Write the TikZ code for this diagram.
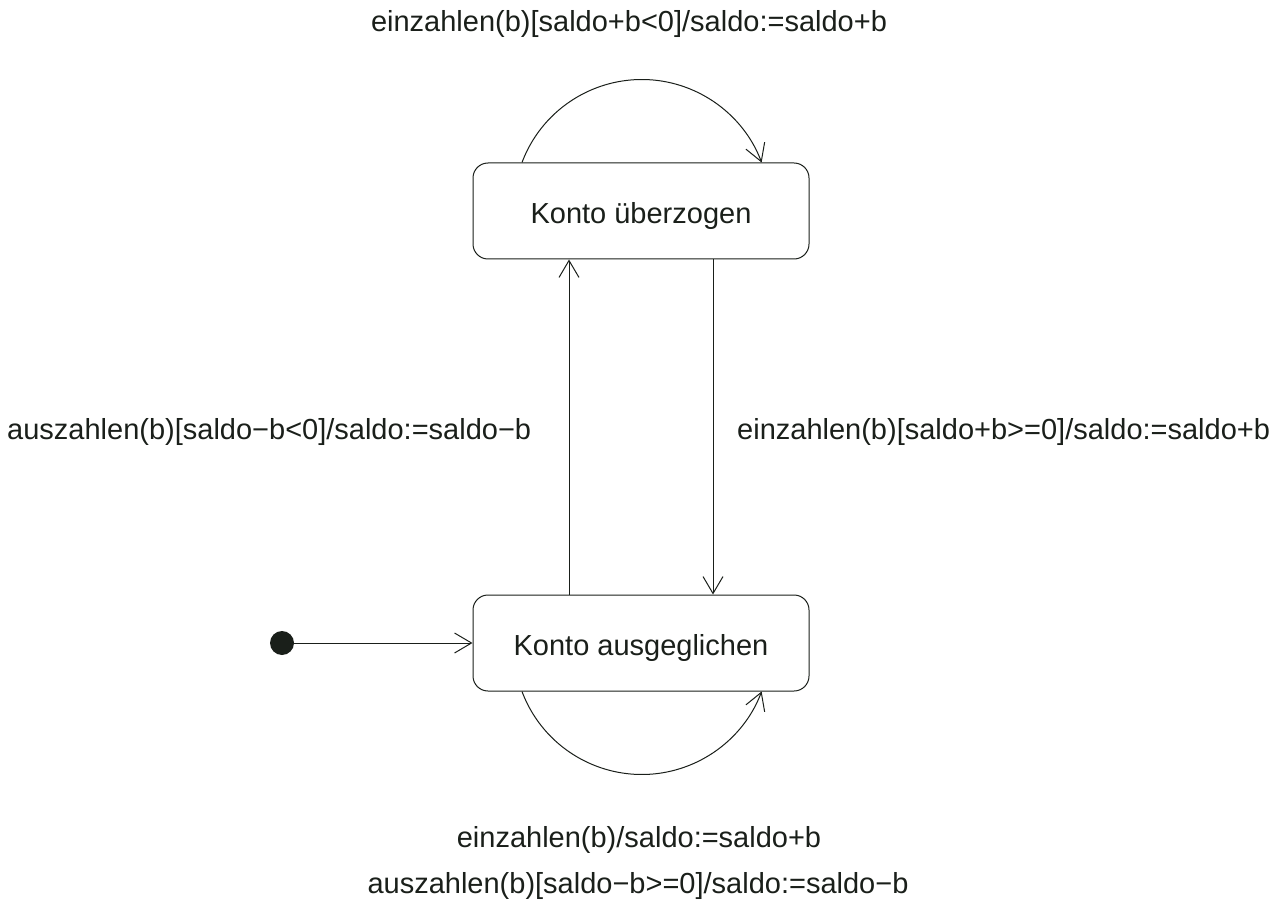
\documentclass[tikz,border=0pt]{standalone}
\usepackage{fontspec}
\setmainfont{Liberation Sans}
\usetikzlibrary{arrows.meta}
\definecolor{ink}{HTML}{1A1F1A}
\tikzset{
  state/.style={draw=ink, line width=1pt, rounded corners=15pt,
    minimum width=336pt, minimum height=96pt, inner sep=0pt, text=ink,
    text height=31pt, text depth=6pt},
  trans/.style={draw=ink, line width=1pt,
    -{Straight Barb[length=17pt,width=20pt,line width=1pt]}},
  lbl/.style={text=ink, inner sep=0pt},
}
\begin{document}
\begin{tikzpicture}[x=1pt, y=-1pt, font=\fontsize{29}{34}\selectfont]
\useasboundingbox (0,0) rectangle (1272,901);

% states
\node[state] (ueber) at (641,211) {Konto überzogen};
\node[state] (ausg)  at (641,643) {Konto ausgeglichen};

% initial pseudostate
\node[circle, fill=ink, minimum size=24pt, inner sep=0pt] (init) at (282,643) {};
\draw[trans] (init) -- (ausg.west);

% transitions between the two states
\draw[trans] ([xshift=-72pt]ausg.north) -- ([xshift=-72pt]ueber.south);
\draw[trans] ([xshift=72pt]ueber.south) -- ([xshift=72pt]ausg.north);

% self loops
\draw[trans] ([xshift=-119pt]ueber.north) arc[start angle=159.4, end angle=20.6, radius=128pt];
\draw[trans] ([xshift=-119pt]ausg.south) arc[start angle=-159.4, end angle=-20.6, radius=128pt];

% transition labels
\node[lbl] (l1) at (629,24) {einzahlen(b)[saldo+b<0]/saldo:=saldo+b};
\node[lbl, anchor=west] (l2) at (7,432) {auszahlen(b)[saldo−b<0]/saldo:=saldo−b};
\node[lbl, anchor=west] (l3) at (737,432) {einzahlen(b)[saldo+b>=0]/saldo:=saldo+b};
\node[lbl] (l4) at (639,840) {einzahlen(b)/saldo:=saldo+b};
\node[lbl] (l5) at (638,886) {auszahlen(b)[saldo−b>=0]/saldo:=saldo−b};
\end{tikzpicture}
\end{document}
